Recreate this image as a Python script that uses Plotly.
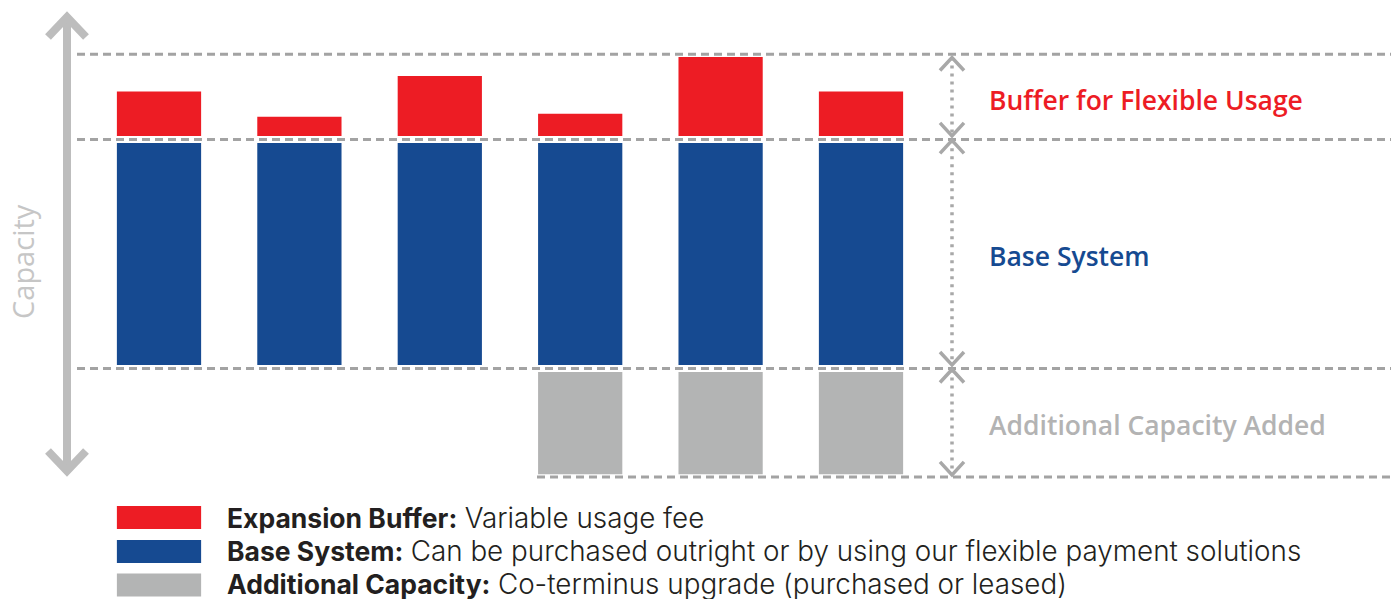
import plotly.graph_objects as go

# ---- data ----
columns = [0, 1, 2, 3, 4, 5]
base_system = [10, 10, 10, 10, 10, 10]
buffer = [2.0, 0.86, 2.7, 1.0, 3.55, 2.0]
additional = [None, None, None, 4.6, 4.6, 4.6]
gap = 0.32
guide_levels = [14.0, 10.16, -0.16, -5.05]
arrow_spans = [(13.85, 10.32), (10.12, 0.0), (-0.2, -4.95)]
band_labels = ["Buffer for Flexible Usage", "Base System", "Additional Capacity Added"]
band_label_y = [11.94, 4.91, -2.70]
legend_bold = ["Expansion Buffer:", "Base System:", "Additional Capacity:"]
legend_text = ["Variable usage fee",
               "Can be purchased outright or by using our flexible payment solutions",
               "Co-terminus upgrade (purchased or leased)"]
legend_y = [-6.87, -8.40, -9.88]

RED = "#ed1c24"
BLUE = "#164a91"
GRAY = "#b3b4b4"
GUIDE = "#a3a3a3"
FONT = "Open Sans"
LFONT = "Inter"

W, H = 1391, 599
K = 22.2      # px per y unit
S = 140.4     # px per column
yr = [(365 - H) / K, 365 / K]
xr = [-159 / S, (W - 159) / S]

fig = go.Figure()
fig.add_trace(go.Bar(x=columns, y=additional,
                     base=[None if a is None else -gap - a for a in additional],
                     marker=dict(color=GRAY, line=dict(width=0)), width=0.6))
fig.add_trace(go.Bar(x=columns, y=base_system, base=[0] * 6,
                     marker=dict(color=BLUE, line=dict(width=0)), width=0.6))
fig.add_trace(go.Bar(x=columns, y=buffer, base=[b + gap for b in base_system],
                     marker=dict(color=RED, line=dict(width=0)), width=0.6))

shapes = []
# dashed guides
for i, lv in enumerate(guide_levels):
    x0 = (77 - 159) / S if i < 3 else (537 - 159) / S
    shapes.append(dict(type="line", xref="x", yref="y", x0=x0, x1=xr[1] + 0.1,
                       y0=lv, y1=lv, line=dict(color=GUIDE, width=3, dash="8px,5px"),
                       layer="below"))

# right dotted arrows
ax = (952 - 159) / S
AC = "#a8a8a8"
for top, bot in arrow_spans:
    shapes.append(dict(type="line", xref="x", yref="y", x0=ax, x1=ax, y0=top, y1=bot,
                       line=dict(color=AC, width=3.5, dash="3px,5px")))
    shapes.append(dict(type="path", xref="x", yref="y", xsizemode="pixel", ysizemode="pixel",
                       xanchor=ax, yanchor=top, path="M-12,-13 L0,0 L12,-13",
                       line=dict(color=AC, width=3.5)))
    shapes.append(dict(type="path", xref="x", yref="y", xsizemode="pixel", ysizemode="pixel",
                       xanchor=ax, yanchor=bot, path="M-12,13 L0,0 L12,13",
                       line=dict(color=AC, width=3.5)))

# left big arrow
lx = (67 - 159) / S
LC = "#bdbdbd"
ltop = (365 - 17) / K
lbot = (365 - 471) / K
shapes.append(dict(type="line", xref="x", yref="y", x0=lx, x1=lx, y0=ltop, y1=lbot,
                   line=dict(color=LC, width=8)))
shapes.append(dict(type="path", xref="x", yref="y", xsizemode="pixel", ysizemode="pixel",
                   xanchor=lx, yanchor=ltop, path="M-19,-20 L0,0 L19,-20",
                   line=dict(color=LC, width=8)))
shapes.append(dict(type="path", xref="x", yref="y", xsizemode="pixel", ysizemode="pixel",
                   xanchor=lx, yanchor=lbot, path="M-19,20 L0,0 L19,20",
                   line=dict(color=LC, width=8)))

# legend swatches
sw_colors = [RED, BLUE, GRAY]
sw_y = [-6.87, -8.40, -9.91]
for c, ly in zip(sw_colors, sw_y):
    shapes.append(dict(type="rect", xref="x", yref="y", x0=-0.3, x1=0.3,
                       y0=ly - 11.5 / K, y1=ly + 11.5 / K,
                       fillcolor=c, line=dict(width=0)))

annotations = []
label_colors = [RED, BLUE, "#b3b3b3"]
for t, yv, c in zip(band_labels, band_label_y, label_colors):
    annotations.append(dict(text=t, xref="x", yref="y", x=(987 - 159) / S, y=yv,
                            xanchor="left", yanchor="middle", showarrow=False,
                            font=dict(family=FONT, size=26.5, color=c, weight=600)))
for b, t, yv in zip(legend_bold, legend_text, legend_y):
    annotations.append(dict(text=f"<b>{b}</b> <span style='font-size:27.8px'>{t}</span>",
                            xref="x", yref="y", x=(225 - 159) / S, y=yv,
                            xanchor="left", yanchor="middle", showarrow=False,
                            font=dict(family=LFONT, size=26.5, color="#231f20", weight=300)))
annotations.append(dict(text="Capacity", xref="paper", yref="y", x=22 / W, y=(365 - 262) / K,
                        xanchor="center", yanchor="middle", textangle=-90, showarrow=False,
                        font=dict(family=FONT, size=29, color="#c6c6c6")))

fig.update_layout(
    width=W, height=H, margin=dict(l=0, r=0, t=0, b=0),
    barmode="overlay", showlegend=False,
    paper_bgcolor="white", plot_bgcolor="white",
    xaxis=dict(range=xr, visible=False, fixedrange=True),
    yaxis=dict(range=yr, visible=False, fixedrange=True),
    shapes=shapes, annotations=annotations,
)

fig.write_html("out.html", config={"displayModeBar": False},
               post_script="document.body.style.margin='0';")
